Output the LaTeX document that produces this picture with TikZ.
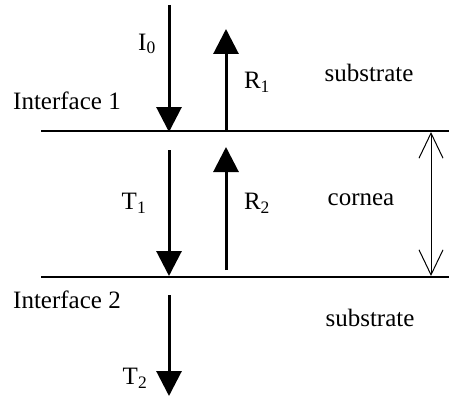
\documentclass[tikz,border=0pt]{standalone}
\usepackage{fontspec}
\setmainfont{Liberation Serif}
\usetikzlibrary{arrows.meta}
\begin{document}
\begin{tikzpicture}[x=1pt,y=-1pt,
  lbl/.style={inner sep=0pt,font=\fontsize{25}{30}\selectfont},
  iface/.style={line width=1.8pt},
  ray/.style={line width=3pt,-{Triangle[length=25pt,width=25pt]}},
  gap/.style={line width=1pt,{Straight Barb[length=25pt,width=24pt]}-{Straight Barb[length=25pt,width=24pt]}}]
\useasboundingbox (0,0) rectangle (449,396);
% interface lines
\coordinate (i1l) at (41,131);
\coordinate (i1r) at (449,131);
\coordinate (i2l) at (41,277);
\coordinate (i2r) at (449,277);
\draw[iface] (i1l) -- (i1r);
\draw[iface] (i2l) -- (i2r);
% ray coordinates
\coordinate (i0s) at (169,5);
\coordinate (i0e) at (169,132);
\coordinate (r1s) at (226,131);
\coordinate (r1e) at (226,29);
\coordinate (t1s) at (169,150);
\coordinate (t1e) at (169,276);
\coordinate (r2s) at (226,270);
\coordinate (r2e) at (226,147);
\coordinate (t2s) at (169,295);
\coordinate (t2e) at (169,396);
\draw[ray] (i0s) -- (i0e);
\draw[ray] (r1s) -- (r1e);
\draw[ray] (t1s) -- (t1e);
\draw[ray] (r2s) -- (r2e);
\draw[ray] (t2s) -- (t2e);
% thickness arrow
\coordinate (ga) at (431,132);
\coordinate (gb) at (431,276);
\draw[gap] (ga) -- (gb);
% labels
\node[lbl] (lI0) at (147,44) {I\textsubscript{0}};
\node[lbl] (lR1) at (257,82) {R\textsubscript{1}};
\node[lbl] (lif1) at (67,101) {Interface 1};
\node[lbl] (lsub1) at (369,73) {substrate};
\node[lbl] (lT1) at (134,203) {T\textsubscript{1}};
\node[lbl] (lR2) at (257,203) {R\textsubscript{2}};
\node[lbl] (lcor) at (361,200) {cornea};
\node[lbl] (lif2) at (67,300) {Interface 2};
\node[lbl] (lsub2) at (370,318) {substrate};
\node[lbl] (lT2) at (135,378) {T\textsubscript{2}};
\end{tikzpicture}
\end{document}
